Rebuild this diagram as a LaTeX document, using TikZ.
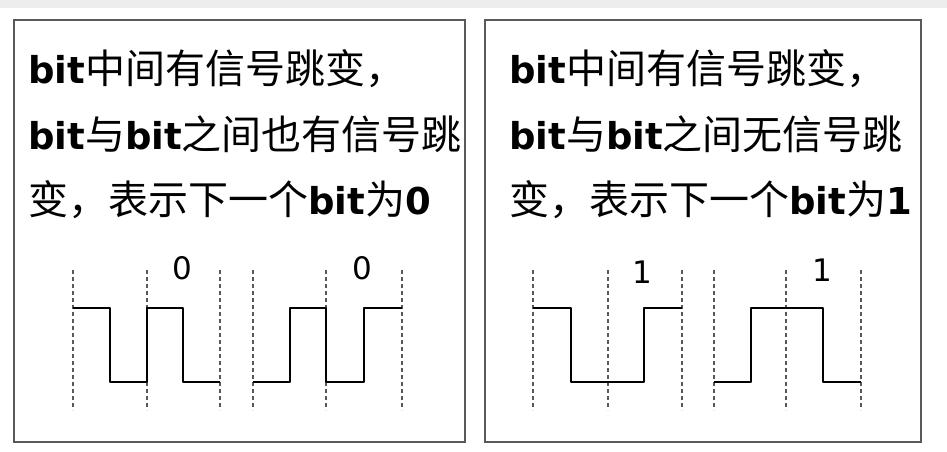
\documentclass[tikz,border=0pt]{standalone}
\usepackage{fontspec}
\setmainfont{Noto Sans CJK SC}
\newfontfamily\latin{DejaVu Sans}
\newcommand{\bitw}{{\latin\bfseries\fontsize{37}{37}\selectfont bit}}
\newcommand{\digw}[1]{{\latin\bfseries\fontsize{37}{37}\selectfont #1}}
\begin{document}
\begin{tikzpicture}[
        x=1pt, y=-1pt,
        panel/.style={draw=black!65, line width=1.5pt, minimum height=422pt, inner sep=0pt},
        line/.style={anchor=base west, inner sep=0pt, font=\fontsize{40}{40}\selectfont},
        grid/.style={draw=black!65, line width=1.1pt, dash pattern=on 4pt off 3pt},
        signal/.style={draw=black, line width=1.9pt, line join=round},
        bitval/.style={inner sep=0pt, font=\latin\fontsize{31}{31}\selectfont},
    ]
    \useasboundingbox (0,0) rectangle (947,451);
    \fill[black!7] (0,0) rectangle (947,8);
    \node[panel, minimum width=451pt](lbox) at (239.5,231){};
    \node[panel, minimum width=436pt](rbox) at (703,231){};
    % left panel
    \node[line](l1) at (28,83){\bitw 中间有信号跳变，};
    \node[line](l2) at (28,149){\bitw 与\bitw 之间也有信号跳};
    \node[line](l3) at (28,214){变，表示下一个\bitw 为\digw{0}};
    \foreach \x in {73,147,220,253,326,402} \draw[grid] (\x,270) -- (\x,410);
    \draw[signal] (73,308) -- (110,308) -- (110,382) -- (147,382) -- (147,308) -- (183,308) -- (183,382) -- (220,382);
    \draw[signal] (253,382) -- (290,382) -- (290,308) -- (326,308) -- (326,382) -- (364,382) -- (364,308) -- (402,308);
    \node[bitval](z1) at (182,268){0};
    \node[bitval](z2) at (362,268){0};
    % right panel
    \node[line](r1) at (509,83){\bitw 中间有信号跳变，};
    \node[line](r2) at (509,149){\bitw 与\bitw 之间无信号跳};
    \node[line](r3) at (509,214){变，表示下一个\bitw 为\digw{1}};
    \foreach \x in {533,608,682,714,786,861} \draw[grid] (\x,270) -- (\x,410);
    \draw[signal] (533,308) -- (571,308) -- (571,382) -- (644,382) -- (644,308) -- (682,308);
    \draw[signal] (714,382) -- (751,382) -- (751,308) -- (823,308) -- (823,382) -- (861,382);
    \node[bitval](o1) at (642,272){1};
    \node[bitval](o2) at (822,270){1};
\end{tikzpicture}
\end{document}
